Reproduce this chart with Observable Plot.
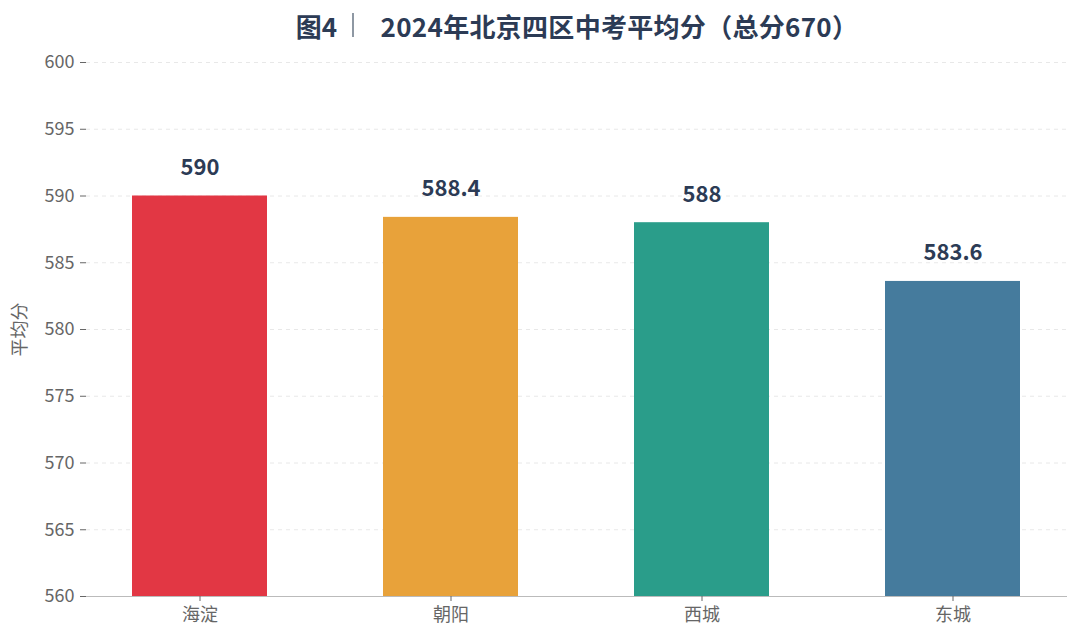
<!DOCTYPE html>
<html><head><meta charset="utf-8">
<script src="https://cdn.jsdelivr.net/npm/d3@7"></script>
<script src="https://cdn.jsdelivr.net/npm/@observablehq/plot@0.6"></script>
<style>
body{margin:0;background:#fff;font-family:"Noto Sans CJK SC","Noto Sans",sans-serif;}
#title{height:46px;width:1080px;display:flex;align-items:center;justify-content:center;font-size:26px;font-weight:700;color:#2c3b55;box-sizing:border-box;padding-left:74px;padding-top:4px}
#title .sep{display:inline-block;width:1.5px;height:24px;background:#8e98a3;margin:0 27px 0 15px}
</style></head><body>
<div id="title"><span>图4</span><span class="sep"></span><span style="letter-spacing:0.3px">2024年北京四区中考平均分（总分670）</span></div>
<div id="chart"></div>
<script>
const districts = ["海淀","朝阳","西城","东城"];
const scores = [590, 588.4, 588, 583.6];
const colors = ["#e23744","#e8a23a","#2a9d8a","#457b9d"];
const yTicks = [560,565,570,575,580,585,590,595,600];

const data = districts.map((d,i)=>({district:d, score:scores[i], color:colors[i]}));

const chart = Plot.plot({
  width:1080, height:597,
  marginTop:16, marginBottom:47, marginLeft:86, marginRight:13,
  style:{fontFamily:'"Noto Sans CJK SC","Noto Sans",sans-serif', fontSize:"18px", color:"#666"},
  x:{domain:districts, paddingInner:0.462, paddingOuter:0.185},
  y:{domain:[560,600]},
  marks:[
    Plot.gridY(yTicks.slice(1), {stroke:"#d8d8d8", strokeOpacity:0.6, strokeDasharray:"4,4"}),
    Plot.barY(data, {x:"district", y1:560, y2:"score", fill:"color"}),
    Plot.ruleX([0], {frameAnchor:"left", stroke:"#bbb"}),
    Plot.ruleY([560], {stroke:"#bbb"}),
    Plot.text(data, {x:"district", y:"score", text:d=>String(d.score), dy:-28, fontSize:22, fontWeight:700, fill:"#2c3b55"}),
    Plot.axisY({ticks:yTicks, tickSize:6, tickPadding:6, stroke:"#666", fill:"#666", label:"平均分", labelAnchor:"center", labelArrow:"none", labelOffset:73, fontSize:18}),
    Plot.axisX({tickSize:5, tickPadding:7, stroke:"#666", fill:"#666", label:null, fontSize:18})
  ]
});
document.getElementById("chart").appendChild(chart);
</script>
</body></html>
